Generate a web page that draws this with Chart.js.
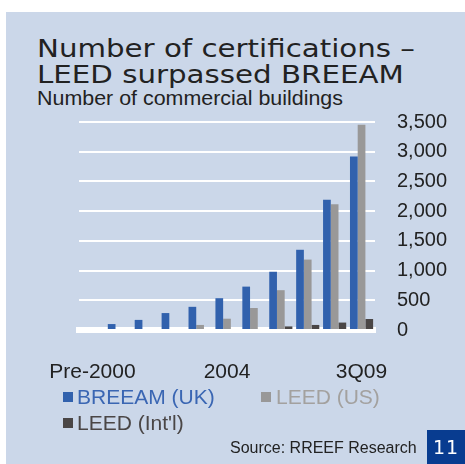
<!DOCTYPE html>
<html>
<head>
<meta charset="utf-8">
<script src="https://cdn.jsdelivr.net/npm/chart.js@4"></script>
<style>
  html, body { margin: 0; padding: 0; background: #fff; }
  #page { position: relative; width: 465px; height: 464px; overflow: hidden; font-family: "Liberation Sans", Arial, sans-serif; color: #222; }
  #panel { position: absolute; left: 6px; top: 12px; right: 0; bottom: 0; background: #cbd7e9; }
  #wrap { position: absolute; left: 0; top: 0; width: 465px; height: 464px; }
  .title { position: absolute; left: 37px; font-family: "DejaVu Sans", sans-serif; font-size: 24px; line-height: 26px; white-space: nowrap; color: #222; transform: scaleX(1.22); transform-origin: 0 0; }
  .sub { position: absolute; left: 37px; top: 86px; font-size: 21px; line-height: 24px; white-space: nowrap; transform: scaleX(1.02); transform-origin: 0 0; }
  .lg-box { position: absolute; width: 10px; height: 10px; }
  .lg-text { position: absolute; font-size: 21px; line-height: 24px; white-space: nowrap; }
  .source { position: absolute; left: 230px; top: 440px; font-size: 16px; line-height: 16px; white-space: nowrap; }
  .pageno { position: absolute; left: 427px; top: 430px; width: 38px; height: 34px; background: #083c90; color: #fff; font-family: "DejaVu Sans", sans-serif; font-size: 19px; line-height: 34px; text-align: center; letter-spacing: 1px; }
</style>
</head>
<body>
<div id="page">
  <div id="panel"></div>
  <div class="title" style="top:36px">Number of certifications –</div>
  <div class="title" style="top:62px">LEED surpassed BREEAM</div>
  <div class="sub">Number of commercial buildings</div>
  <div id="wrap"><canvas id="chart"></canvas></div>
  <div id="legend"></div>
  <div class="source">Source: RREEF Research</div>
  <div class="pageno">11</div>
</div>
<script>
const categories = ['Pre-2000', '2000', '2001', '2002', '2003', '2004', '2005', '2006', '2007', '2008', '3Q09'];
const tickLabels = ['Pre-2000', '2004', '3Q09'];
const breeamUK = [0, 100, 170, 285, 390, 535, 730, 980, 1350, 2190, 2920];
const leedUS = [0, 0, 0, 0, 85, 190, 370, 670, 1185, 2115, 3455];
const leedIntl = [0, 0, 0, 0, 0, 0, 0, 60, 85, 125, 185];
const seriesNames = ['BREEAM (UK)', 'LEED (US)', "LEED (Int'l)"];
const yTicks = [0, 500, 1000, 1500, 2000, 2500, 3000, 3500];

const colors = ['#3161ad', '#999898', '#4a4646'];
const textColors = ['#3a66b3', '#a3a19f', '#4a4646'];

// legend in html, left aligned in two rows like the original
const legendPos = [
  { box: [63, 392], text: [77, 385] },
  { box: [261, 392], text: [276, 385] },
  { box: [63, 418], text: [77, 411] }
];
const legend = document.getElementById('legend');
seriesNames.forEach((name, i) => {
  const b = document.createElement('div');
  b.className = 'lg-box';
  b.style.left = legendPos[i].box[0] + 'px';
  b.style.top = legendPos[i].box[1] + 'px';
  b.style.background = colors[i];
  legend.appendChild(b);
  const t = document.createElement('div');
  t.className = 'lg-text';
  t.style.left = legendPos[i].text[0] + 'px';
  t.style.top = legendPos[i].text[1] + 'px';
  t.style.color = textColors[i];
  t.textContent = name;
  legend.appendChild(t);
});

new Chart(document.getElementById('chart'), {
  type: 'bar',
  data: {
    labels: categories,
    datasets: [
      { label: seriesNames[0], data: breeamUK, backgroundColor: colors[0] },
      { label: seriesNames[1], data: leedUS, backgroundColor: colors[1] },
      { label: seriesNames[2], data: leedIntl, backgroundColor: colors[2] }
    ]
  },
  options: {
    responsive: true,
    maintainAspectRatio: false,
    animation: false,
    layout: { padding: { left: 79, top: 122, right: 0, bottom: 0 } },
    datasets: { bar: { categoryPercentage: 0.86, barPercentage: 1 } },
    plugins: {
      legend: { display: false },
      tooltip: { enabled: false }
    },
    scales: {
      x: {
        z: 1,
        grid: { display: false },
        border: { display: true, color: '#ffffff', width: 6 },
        ticks: {
          autoSkip: false,
          maxRotation: 0,
          padding: 22,
          color: '#222',
          font: { family: 'Liberation Sans', size: 21 },
          callback: function (v, i) {
            const l = categories[i];
            return tickLabels.includes(l) ? l : '';
          }
        },
        afterFit: s => { s.height = 134; }
      },
      y: {
        position: 'right',
        min: 0,
        max: 3500,
        grid: { color: '#ffffff', lineWidth: 2, drawTicks: false },
        border: { display: false },
        afterBuildTicks: s => { s.ticks = yTicks.map(v => ({ value: v })); },
        ticks: {
          padding: 22,
          crossAlign: 'near',
          color: '#222',
          font: { family: 'Liberation Sans', size: 20 },
          callback: v => v.toLocaleString('en-US')
        },
        afterFit: s => { s.width = 90; }
      }
    }
  }
});
</script>
</body>
</html>
